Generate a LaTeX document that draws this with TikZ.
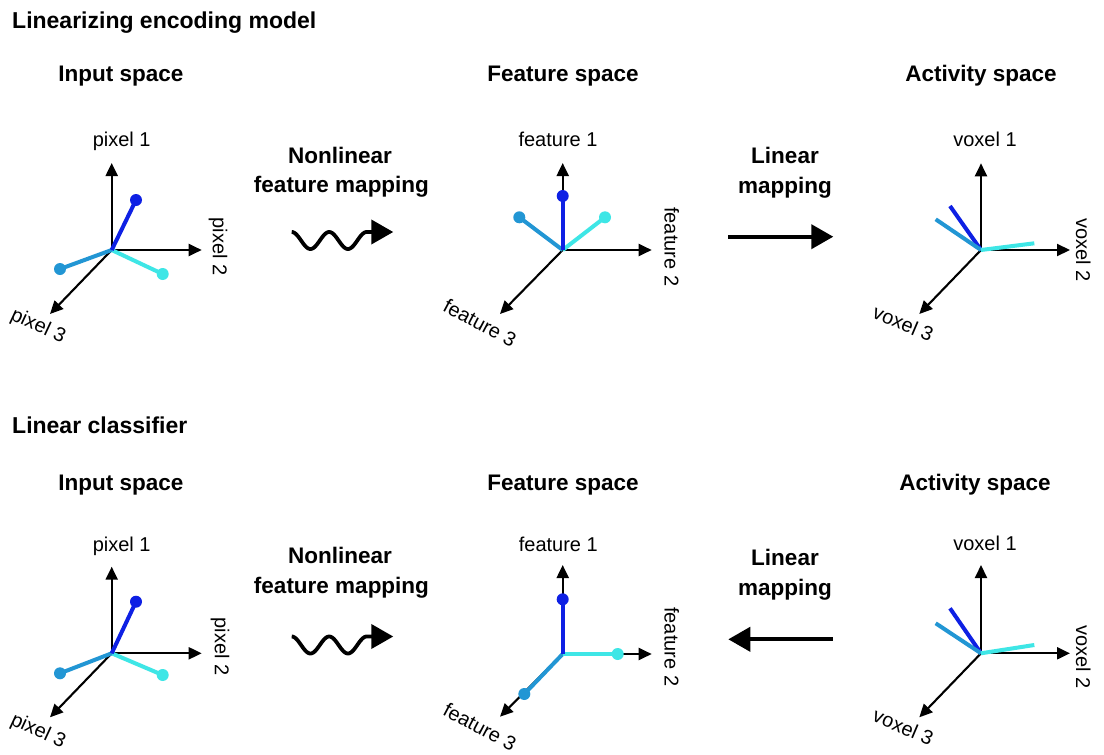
\documentclass[tikz,border=0pt]{standalone}
\usepackage{fontspec}
\setmainfont{Liberation Sans}
\usetikzlibrary{arrows.meta}
\definecolor{vdark}{RGB}{14,32,228}
\definecolor{vmid}{RGB}{34,150,212}
\definecolor{vcyan}{RGB}{62,230,230}
\begin{document}
\begin{tikzpicture}[x=1pt,y=-1pt,
  axis/.style={black, line width=2.1pt, -{Triangle[length=13pt,width=12pt]}},
  vec/.style={line width=4pt},
  lab/.style={font=\fontsize{20}{24}\selectfont, inner sep=0pt},
  ttl/.style={font=\bfseries\fontsize{22.5}{27}\selectfont, inner sep=0pt, anchor=base},
  hdr/.style={font=\bfseries\fontsize{23}{27}\selectfont, inner sep=0pt, anchor=base west},
  bigarrow/.style={black, line width=4pt, -{Triangle[length=22pt,width=24pt]}},
  wave/.style={black, line width=3.8pt, -{Triangle[length=22pt,width=24pt]}}]
\useasboundingbox[fill=white] (0,0) rectangle (1104,755);

% ---------- headers and titles ----------
\node[hdr] (h1) at (12,28.3) {Linearizing encoding model};
\node[hdr] (h2) at (12,433.3) {Linear classifier};
\node[ttl] (t1) at (121,81.7) {Input space};
\node[ttl] (t2) at (563,81.7) {Feature space};
\node[ttl] (t3) at (981,81.7) {Activity space};
\node[ttl] (t4) at (121,490) {Input space};
\node[ttl] (t5) at (563,490) {Feature space};
\node[ttl] (t6) at (975,490) {Activity space};

% ---------- mapping labels ----------
\node[ttl] (m1a) at (340,163.3) {Nonlinear};
\node[ttl] (m1b) at (341.5,192) {feature mapping};
\node[ttl] (m2a) at (785,163.3) {Linear};
\node[ttl] (m2b) at (785,193.3) {mapping};
\node[ttl] (m3a) at (340,563.3) {Nonlinear};
\node[ttl] (m3b) at (341.5,593.3) {feature mapping};
\node[ttl] (m4a) at (785,565) {Linear};
\node[ttl] (m4b) at (785,595) {mapping};

% ---------- wavy arrows ----------
\coordinate (w1s) at (291.7,240.5);
\begin{scope}[shift={(w1s)}]
  \draw[wave] plot[domain=0:75, samples=80, smooth] (\x,{-8.5*cos(\x*9.6)}) -- (101.6,-8.5);
\end{scope}
\coordinate (w2s) at (291.7,645);
\begin{scope}[shift={(w2s)}]
  \draw[wave] plot[domain=0:75, samples=80, smooth] (\x,{-8.5*cos(\x*9.6)}) -- (101.6,-8.5);
\end{scope}

% ---------- straight arrows ----------
\coordinate (s1a) at (728.3,236.7);
\coordinate (s1b) at (833.3,236.7);
\draw[bigarrow] (s1a) -- (s1b);
\coordinate (s2a) at (832.7,639.3);
\coordinate (s2b) at (728.3,639.3);
\draw[bigarrow] (s2a) -- (s2b);

% ================= TOP: input space =================
\coordinate (aO) at (111.7,250);
\coordinate (aU) at (111.7,163);
\coordinate (aR) at (201.7,250);
\coordinate (aD) at (50,314);
\draw[axis] (aO) -- (aU);
\draw[axis] (aO) -- (aR);
\draw[axis] (aO) -- (aD);
\node[lab, anchor=base] (aL1) at (121.7,146) {pixel 1};
\node[lab, rotate=-90] (aL2) at (218,246.7) {pixel 2};
\node[lab, rotate=-25] (aL3) at (38,326.7) {pixel 3};
\coordinate (aV1) at (136,200);
\coordinate (aV2) at (60,269);
\coordinate (aV3) at (162.7,274);
\draw[vec, vcyan] (aO) -- (aV3);
\draw[vec, vmid] (aO) -- (aV2);
\draw[vec, vdark] (aO) -- (aV1);
\fill[vdark] (aV1) circle (6);
\fill[vmid] (aV2) circle (6);
\fill[vcyan] (aV3) circle (6);

% ================= TOP: feature space =================
\coordinate (bO) at (562.7,250);
\coordinate (bU) at (562.7,163);
\coordinate (bR) at (651.7,250);
\coordinate (bD) at (500,314);
\draw[axis] (bO) -- (bU);
\draw[axis] (bO) -- (bR);
\draw[axis] (bO) -- (bD);
\node[lab, anchor=base] (bL1) at (558,146) {feature 1};
\node[lab, rotate=-90] (bL2) at (671.7,246.7) {feature 2};
\node[lab, rotate=-28] (bL3) at (480,323) {feature 3};
\coordinate (bV1) at (562.7,196);
\coordinate (bV2) at (519.3,217.3);
\coordinate (bV3) at (605,217.3);
\draw[vec, vmid] (bO) -- (bV2);
\draw[vec, vcyan] (bO) -- (bV3);
\draw[vec, vdark] (bO) -- (bV1);
\fill[vdark] (bV1) circle (6);
\fill[vmid] (bV2) circle (6);
\fill[vcyan] (bV3) circle (6);

% ================= TOP: activity space =================
\coordinate (cO) at (981,250);
\coordinate (cU) at (981,163.3);
\coordinate (cR) at (1070,250);
\coordinate (cD) at (919.3,314);
\draw[axis] (cO) -- (cU);
\draw[axis] (cO) -- (cR);
\draw[axis] (cO) -- (cD);
\node[lab, anchor=base] (cL1) at (985,146) {voxel 1};
\node[lab, rotate=-90] (cL2) at (1083.3,250) {voxel 2};
\node[lab, rotate=-23] (cL3) at (903.3,323.3) {voxel 3};
\coordinate (cV1) at (950,206);
\coordinate (cV2) at (935.7,219.3);
\coordinate (cV3) at (1034.3,243.3);
\draw[vec, vdark] (cO) -- (cV1);
\draw[vec, vmid] (cO) -- (cV2);
\draw[vec, vcyan] (cO) -- (cV3);

% ================= BOTTOM: input space =================
\coordinate (dO) at (111.7,653.3);
\coordinate (dU) at (111.7,566.7);
\coordinate (dR) at (201.7,653.3);
\coordinate (dD) at (50,717.3);
\draw[axis] (dO) -- (dU);
\draw[axis] (dO) -- (dR);
\draw[axis] (dO) -- (dD);
\node[lab, anchor=base] (dL1) at (121.7,551.7) {pixel 1};
\node[lab, rotate=-90] (dL2) at (220,646.7) {pixel 2};
\node[lab, rotate=-25] (dL3) at (38,731.7) {pixel 3};
\coordinate (dV1) at (136,601.7);
\coordinate (dV2) at (60,673.3);
\coordinate (dV3) at (162.7,675);
\draw[vec, vcyan] (dO) -- (dV3);
\draw[vec, vmid] (dO) -- (dV2);
\draw[vec, vdark] (dO) -- (dV1);
\fill[vdark] (dV1) circle (6);
\fill[vmid] (dV2) circle (6);
\fill[vcyan] (dV3) circle (6);

% ================= BOTTOM: feature space =================
\coordinate (eO) at (562.7,654);
\coordinate (eU) at (562.7,565);
\coordinate (eR) at (651.7,654);
\coordinate (eD) at (500,716.7);
\draw[axis] (eO) -- (eU);
\draw[axis] (eO) -- (eR);
\draw[axis] (eO) -- (eD);
\node[lab, anchor=base] (eL1) at (558.3,551.7) {feature 1};
\node[lab, rotate=-90] (eL2) at (671.7,646.7) {feature 2};
\node[lab, rotate=-28] (eL3) at (480,726.7) {feature 3};
\coordinate (eV1) at (562.7,599.3);
\coordinate (eV2) at (524.3,694);
\coordinate (eV3) at (617.7,654);
\draw[vec, vmid] (eO) -- (eV2);
\draw[vec, vcyan] (eO) -- (eV3);
\draw[vec, vdark] (eO) -- (eV1);
\fill[vdark] (eV1) circle (6);
\fill[vmid] (eV2) circle (6);
\fill[vcyan] (eV3) circle (6);

% ================= BOTTOM: activity space =================
\coordinate (fO) at (981,653.3);
\coordinate (fU) at (981,565);
\coordinate (fR) at (1070,653.3);
\coordinate (fD) at (919.3,717.3);
\draw[axis] (fO) -- (fU);
\draw[axis] (fO) -- (fR);
\draw[axis] (fO) -- (fD);
\node[lab, anchor=base] (fL1) at (985,550) {voxel 1};
\node[lab, rotate=-90] (fL2) at (1083.3,656.7) {voxel 2};
\node[lab, rotate=-23] (fL3) at (903.3,726.7) {voxel 3};
\coordinate (fV1) at (950,608.3);
\coordinate (fV2) at (935.7,623.3);
\coordinate (fV3) at (1034.3,645);
\draw[vec, vdark] (fO) -- (fV1);
\draw[vec, vmid] (fO) -- (fV2);
\draw[vec, vcyan] (fO) -- (fV3);
\end{tikzpicture}
\end{document}
